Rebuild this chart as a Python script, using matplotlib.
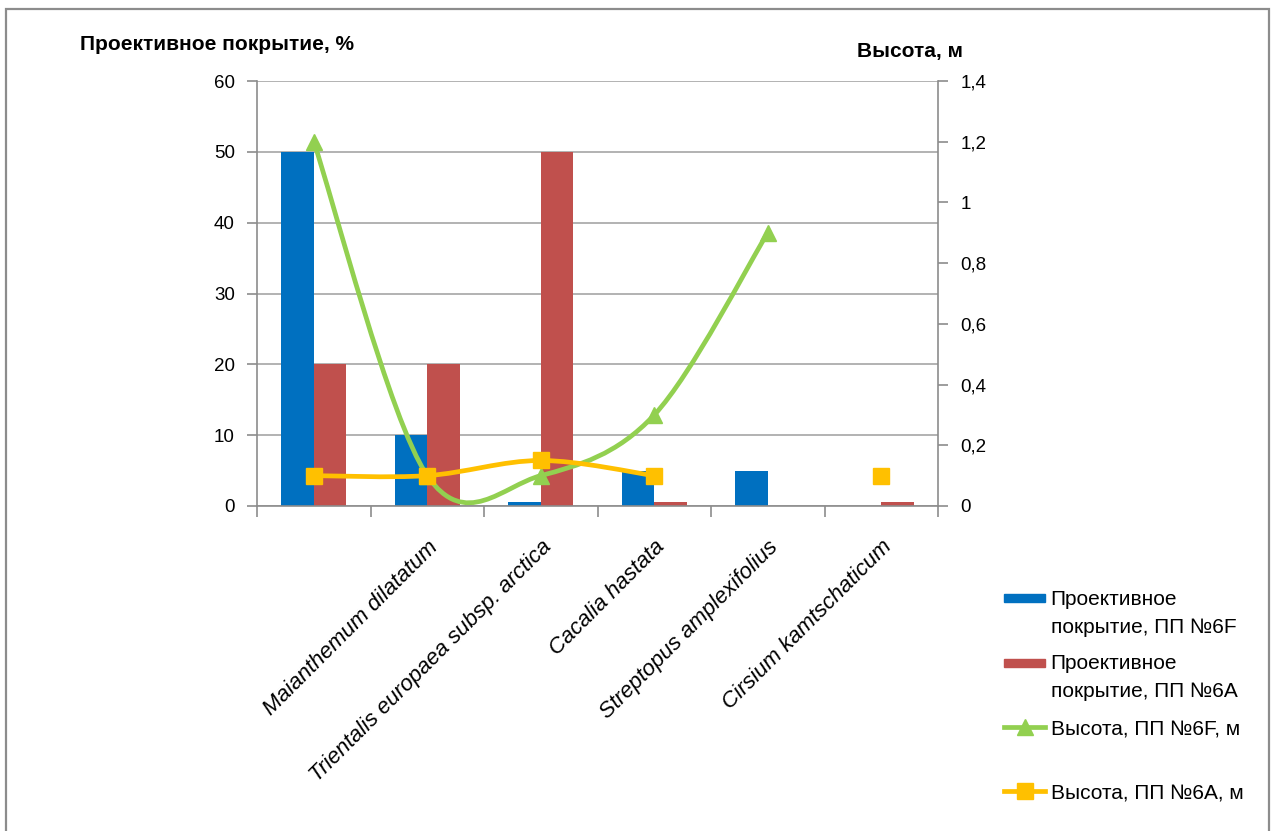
import matplotlib
matplotlib.use("Agg")
import matplotlib.pyplot as plt
from matplotlib.path import Path
from matplotlib.patches import PathPatch, Patch, Rectangle
from matplotlib.lines import Line2D
from matplotlib.legend_handler import HandlerPatch
from matplotlib.ticker import FuncFormatter, MultipleLocator

plt.rcParams['font.family'] = ['Liberation Sans', 'DejaVu Sans']

# species along the x axis (first slot has no caption)
species = ['', 'Maianthemum dilatatum', 'Trientalis europaea subsp. arctica',
           'Cacalia hastata', 'Streptopus amplexifolius', 'Cirsium kamtschaticum']

# projective cover, %
cover_6F = [50, 10, 0.5, 5, 5, 0]
cover_6A = [20, 20, 50, 0.5, 0, 0.5]

# plant height, m (None = no measurement)
height_6F = [1.2, 0.1, 0.1, 0.3, 0.9, None]
height_6A = [0.1, 0.1, 0.15, 0.1, None, 0.1]

legend_labels = ['Проективное\nпокрытие, ПП №6F', 'Проективное\nпокрытие, ПП №6A',
                 'Высота, ПП №6F, м', 'Высота, ПП №6A, м']

BLUE = '#0070C0'
RED = '#C0504D'
GREEN = '#92D050'
YELLOW = '#FFC000'
AXCOL = '#8C8C8C'


def smooth_runs(ax, xs, ys, color, lw):
    # draw Excel-style smoothed segments through each run of present values
    runs, cur = [], []
    for x, y in zip(xs, ys):
        if y is None:
            if cur:
                runs.append(cur)
            cur = []
        else:
            cur.append((x, y))
    if cur:
        runs.append(cur)
    for pts in runs:
        if len(pts) < 2:
            continue
        verts = [pts[0]]
        codes = [Path.MOVETO]
        n = len(pts)
        for i in range(n - 1):
            p0 = pts[i - 1] if i > 0 else pts[i]
            p1 = pts[i]
            p2 = pts[i + 1]
            p3 = pts[i + 2] if i + 2 < n else pts[i + 1]
            c1 = (p1[0] + (p2[0] - p0[0]) / 6, p1[1] + (p2[1] - p0[1]) / 6)
            c2 = (p2[0] - (p3[0] - p1[0]) / 6, p2[1] - (p3[1] - p1[1]) / 6)
            verts += [c1, c2, p2]
            codes += [Path.CURVE4] * 3
        ax.add_patch(PathPatch(Path(verts, codes), fill=False, edgecolor=color,
                               lw=lw, capstyle='round', joinstyle='round', zorder=3))


def first_line_patch(legend, orig_handle, xdescent, ydescent, width, height, fontsize):
    # flat swatch level with the first line of a two-line label
    h = height * 0.55
    return Rectangle((-xdescent, -ydescent + (height - h) / 2 + 0.72 * fontsize), width, h)


fig = plt.figure(figsize=(12.79, 8.31), dpi=100)
fig.patches.append(Rectangle((6 / 1279, -0.01), 1263 / 1279, 1 - 9 / 831 + 0.01,
                             transform=fig.transFigure, fill=False,
                             edgecolor='#8C8C8C', lw=1.6, zorder=0))

ax = fig.add_axes([257 / 1279, 1 - 506 / 831, 681 / 1279, 425 / 831])
x = list(range(len(species)))
w = 0.285
ax.bar([i - w / 2 for i in x], cover_6F, width=w, color=BLUE, zorder=2)
ax.bar([i + w / 2 for i in x], cover_6A, width=w, color=RED, zorder=2)

ax.set_xlim(-0.5, len(species) - 0.5)
ax.set_ylim(0, 60)
ax.yaxis.set_major_locator(MultipleLocator(10))
ax.grid(axis='y', color='#A6A6A6', lw=1.2, zorder=0)
ax.set_axisbelow(True)

# category boundaries carry the tick marks, centres carry the names
ax.set_xticks([i - 0.5 for i in range(len(species) + 1)])
ax.set_xticklabels([])
ax.set_xticks(x, minor=True)
ax.set_xticklabels(species, minor=True, rotation=45, ha='right', va='top',
                   rotation_mode='anchor', fontsize=16, style='italic')
ax.tick_params(axis='x', which='minor', length=0, pad=22)
ax.tick_params(axis='x', which='major', length=8, width=1.2, color=AXCOL, direction='out')
ax.tick_params(axis='y', length=7, width=1.2, color=AXCOL, labelsize=13.5, pad=9)

for side in ('top', 'right'):
    ax.spines[side].set_visible(False)
for side in ('left', 'bottom'):
    ax.spines[side].set_color(AXCOL)
    ax.spines[side].set_linewidth(1.2)

ax2 = ax.twinx()
ax2.set_ylim(0, 1.4)
ax2.yaxis.set_major_locator(MultipleLocator(0.2))
ax2.yaxis.set_major_formatter(FuncFormatter(lambda v, p: f"{round(v, 2):g}".replace('.', ',')))
ax2.tick_params(axis='y', length=7, width=1.2, color=AXCOL, labelsize=13.5, pad=9)
for side in ('top', 'left', 'bottom'):
    ax2.spines[side].set_visible(False)
ax2.spines['right'].set_color(AXCOL)
ax2.spines['right'].set_linewidth(1.2)

smooth_runs(ax2, x, height_6F, GREEN, 3.4)
smooth_runs(ax2, x, height_6A, YELLOW, 3.4)
ax2.plot([i for i, v in zip(x, height_6F) if v is not None],
         [v for v in height_6F if v is not None],
         ls='none', marker='^', ms=11, color=GREEN, zorder=4)
ax2.plot([i for i, v in zip(x, height_6A) if v is not None],
         [v for v in height_6A if v is not None],
         ls='none', marker='s', ms=11.5, color=YELLOW, zorder=5)

fig.text(80 / 1279, 1 - 45 / 831, 'Проективное покрытие, %', fontsize=15,
         fontweight='bold', ha='left', va='center')
fig.text(910 / 1279, 1 - 52 / 831, 'Высота, м', fontsize=15,
         fontweight='bold', ha='center', va='center')

handles = [Patch(color=BLUE), Patch(color=RED),
           Line2D([], [], color=GREEN, lw=3.4, marker='^', ms=11),
           Line2D([], [], color=YELLOW, lw=3.4, marker='s', ms=11.5)]
leg_kw = dict(loc='upper left', frameon=False, fontsize=15, labelspacing=0.85,
              handlelength=2.0, handletextpad=0.25,
              handler_map={Patch: HandlerPatch(patch_func=first_line_patch)})
# the last entry sits lower, in its own legend
leg1 = fig.legend(handles[:3], legend_labels[:3],
                  bbox_to_anchor=(985 / 1279, 1 - 571 / 831), **leg_kw)
leg2 = fig.legend(handles[3:], legend_labels[3:],
                  bbox_to_anchor=(985 / 1279, 1 - 765 / 831), **leg_kw)
for leg in (leg1, leg2):
    for t in leg.get_texts():
        t.set_linespacing(1.6)

fig.savefig('out.png', dpi=100)
